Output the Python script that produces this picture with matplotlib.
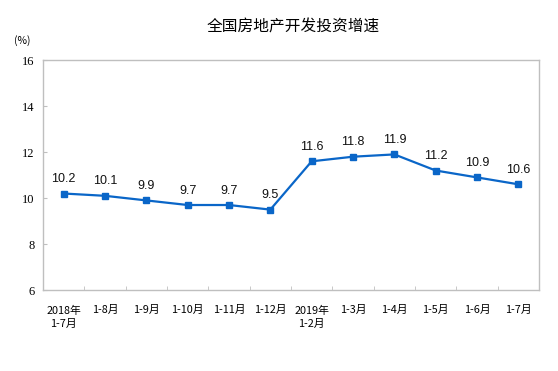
import matplotlib
matplotlib.use("Agg")
import matplotlib.pyplot as plt
import numpy as np

categories = ["2018年\n1-7月", "1-8月", "1-9月", "1-10月", "1-11月", "1-12月",
              "2019年\n1-2月", "1-3月", "1-4月", "1-5月", "1-6月", "1-7月"]
values = [10.2, 10.1, 9.9, 9.7, 9.7, 9.5, 11.6, 11.8, 11.9, 11.2, 10.9, 10.6]
yticks = [6, 8, 10, 12, 14, 16]
title = "全国房地产开发投资增速"
unit = "(%)"

plt.rcParams['font.family'] = ['Noto Sans CJK SC', 'DejaVu Sans']

fig = plt.figure(figsize=(5.58, 3.71), dpi=100)
ax = fig.add_axes([0.077, 0.218, 0.889, 0.620])

x = np.arange(len(values))
color = "#0A66C8"
ax.plot(x, values, color=color, lw=1.6, marker="s", markersize=5, zorder=3)
for xi, v in zip(x, values):
    ax.annotate(f"{v}", (xi, v), xytext=(0, 6), textcoords="offset points",
                ha="center", va="bottom", fontsize=9, family="Liberation Sans",
                color="#111111")

ax.set_xlim(-0.5, len(values) - 0.5)
ax.set_ylim(6, 16)
ax.set_yticks(yticks)
ax.set_yticklabels([str(t) for t in yticks], family="Liberation Serif", fontsize=9)
ax.set_xticks(x)
ax.set_xticklabels(categories, fontsize=7.8, linespacing=1.45)
ax.set_xticks(np.arange(0.5, len(values) - 1, 1), minor=True)
ax.tick_params(axis="x", which="major", length=0, pad=11)
ax.tick_params(axis="x", which="minor", direction="in", length=3, color="#BFBFBF")
ax.tick_params(axis="y", direction="in", length=3, color="#BFBFBF", pad=6)
for s in ax.spines.values():
    s.set_color("#BFBFBF")
    s.set_linewidth(1.0)

fig.text(0.525, 0.927, title, ha="center", va="center", fontsize=11.3)
fig.text(0.04, 0.89, unit, ha="center", va="center", fontsize=7.5)

fig.savefig("out.png", dpi=100)
